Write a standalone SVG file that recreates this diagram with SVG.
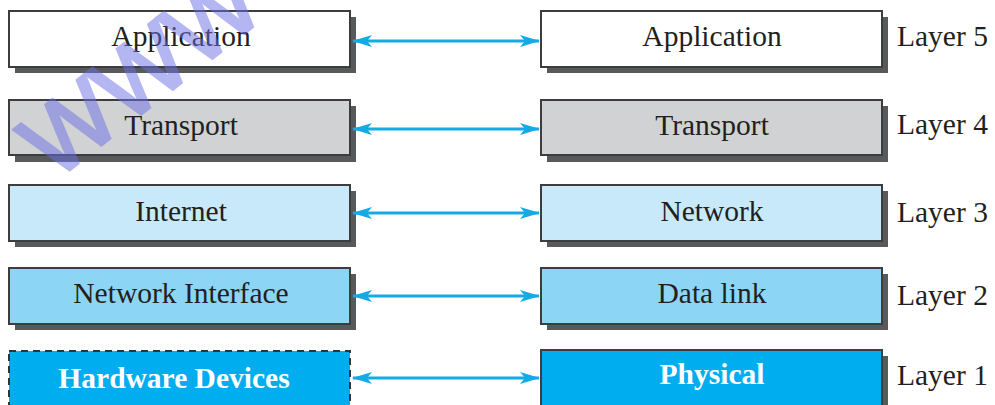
<svg xmlns="http://www.w3.org/2000/svg" width="995" height="405" viewBox="0 0 995 405">
  <style>
    .box { stroke: #3d3d3f; stroke-width: 2; }
    .shadow { fill: #58595b; }
    .dashed { stroke: #333335; stroke-width: 2; stroke-dasharray: 7 5; }
    .lbl { font-family: "Liberation Serif", "Times New Roman", serif; font-size: 29.5px; fill: #231f20; text-anchor: middle; }
    .bold { font-weight: bold; fill: #ffffff; }
    .layer { font-family: "Liberation Serif", "Times New Roman", serif; font-size: 29.5px; fill: #231f20; }
    .link { stroke: #14aae6; stroke-width: 3; fill: none; marker-start: url(#head); marker-end: url(#head); }
    .wm { font-family: "Liberation Sans", Arial, sans-serif; font-size: 96px; fill: #6c70e6; stroke: #6c70e6; stroke-width: 3; opacity: 0.5; }
  </style>
  <defs>
    <marker id="head" viewBox="0 0 20 12" refX="19" refY="6" markerWidth="20" markerHeight="12" markerUnits="userSpaceOnUse" orient="auto-start-reverse">
      <path d="M0,0 L20,6 L0,12 L5,6 Z" fill="#14aae6"/>
    </marker>
  </defs>

  <rect width="995" height="405" fill="#ffffff"/>

  <!-- left stack -->
  <g id="left-application">
    <rect class="shadow" x="15" y="17" width="341" height="56"/>
    <rect class="box" x="9" y="11" width="341" height="56" fill="#ffffff"/>
    <text class="lbl" x="181" y="46">Application</text>
  </g>
  <g id="left-transport">
    <rect class="shadow" x="15" y="106" width="341" height="56"/>
    <rect class="box" x="9" y="100" width="341" height="55" fill="#d1d2d4"/>
    <text class="lbl" x="181" y="135">Transport</text>
  </g>
  <g id="left-internet">
    <rect class="shadow" x="15" y="191" width="341" height="56"/>
    <rect class="box" x="9" y="185" width="341" height="56" fill="#c8e9f9"/>
    <text class="lbl" x="181" y="221">Internet</text>
  </g>
  <g id="left-network-interface">
    <rect class="shadow" x="15" y="274" width="341" height="56"/>
    <rect class="box" x="9" y="268" width="341" height="56" fill="#8dd5f5"/>
    <text class="lbl" x="181" y="303">Network Interface</text>
  </g>
  <g id="left-hardware">
    <rect class="dashed" x="9" y="351" width="341" height="60" fill="#00aeef"/>
    <text class="lbl bold" x="174" y="388">Hardware Devices</text>
  </g>

  <!-- right stack -->
  <g id="right-application">
    <rect class="shadow" x="547" y="17" width="341" height="56"/>
    <rect class="box" x="541" y="11" width="341" height="56" fill="#ffffff"/>
    <text class="lbl" x="712" y="46">Application</text>
  </g>
  <g id="right-transport">
    <rect class="shadow" x="547" y="106" width="341" height="56"/>
    <rect class="box" x="541" y="100" width="341" height="55" fill="#d1d2d4"/>
    <text class="lbl" x="712" y="135">Transport</text>
  </g>
  <g id="right-network">
    <rect class="shadow" x="547" y="191" width="341" height="56"/>
    <rect class="box" x="541" y="185" width="341" height="56" fill="#c8e9f9"/>
    <text class="lbl" x="712" y="221">Network</text>
  </g>
  <g id="right-data-link">
    <rect class="shadow" x="547" y="274" width="341" height="56"/>
    <rect class="box" x="541" y="268" width="341" height="56" fill="#8dd5f5"/>
    <text class="lbl" x="712" y="303">Data link</text>
  </g>
  <g id="right-physical">
    <rect class="shadow" x="547" y="356" width="341" height="60"/>
    <rect class="box" x="541" y="350" width="341" height="60" fill="#00aeef"/>
    <text class="lbl bold" x="712" y="384">Physical</text>
  </g>

  <!-- layer numbers -->
  <g id="layer-labels">
    <text class="layer" x="897" y="46">Layer 5</text>
    <text class="layer" x="897" y="134">Layer 4</text>
    <text class="layer" x="897" y="222">Layer 3</text>
    <text class="layer" x="897" y="305">Layer 2</text>
    <text class="layer" x="897" y="385">Layer 1</text>
  </g>

  <!-- peer links -->
  <g id="connectors">
    <line class="link" x1="353" y1="41" x2="539" y2="41"/>
    <line class="link" x1="353" y1="129" x2="539" y2="129"/>
    <line class="link" x1="353" y1="213" x2="539" y2="213"/>
    <line class="link" x1="353" y1="296" x2="539" y2="296"/>
    <line class="link" x1="353" y1="378" x2="539" y2="378"/>
  </g>

  <!-- watermark -->
  <text class="wm" transform="translate(54,182) rotate(-38)">WWW</text>
</svg>
